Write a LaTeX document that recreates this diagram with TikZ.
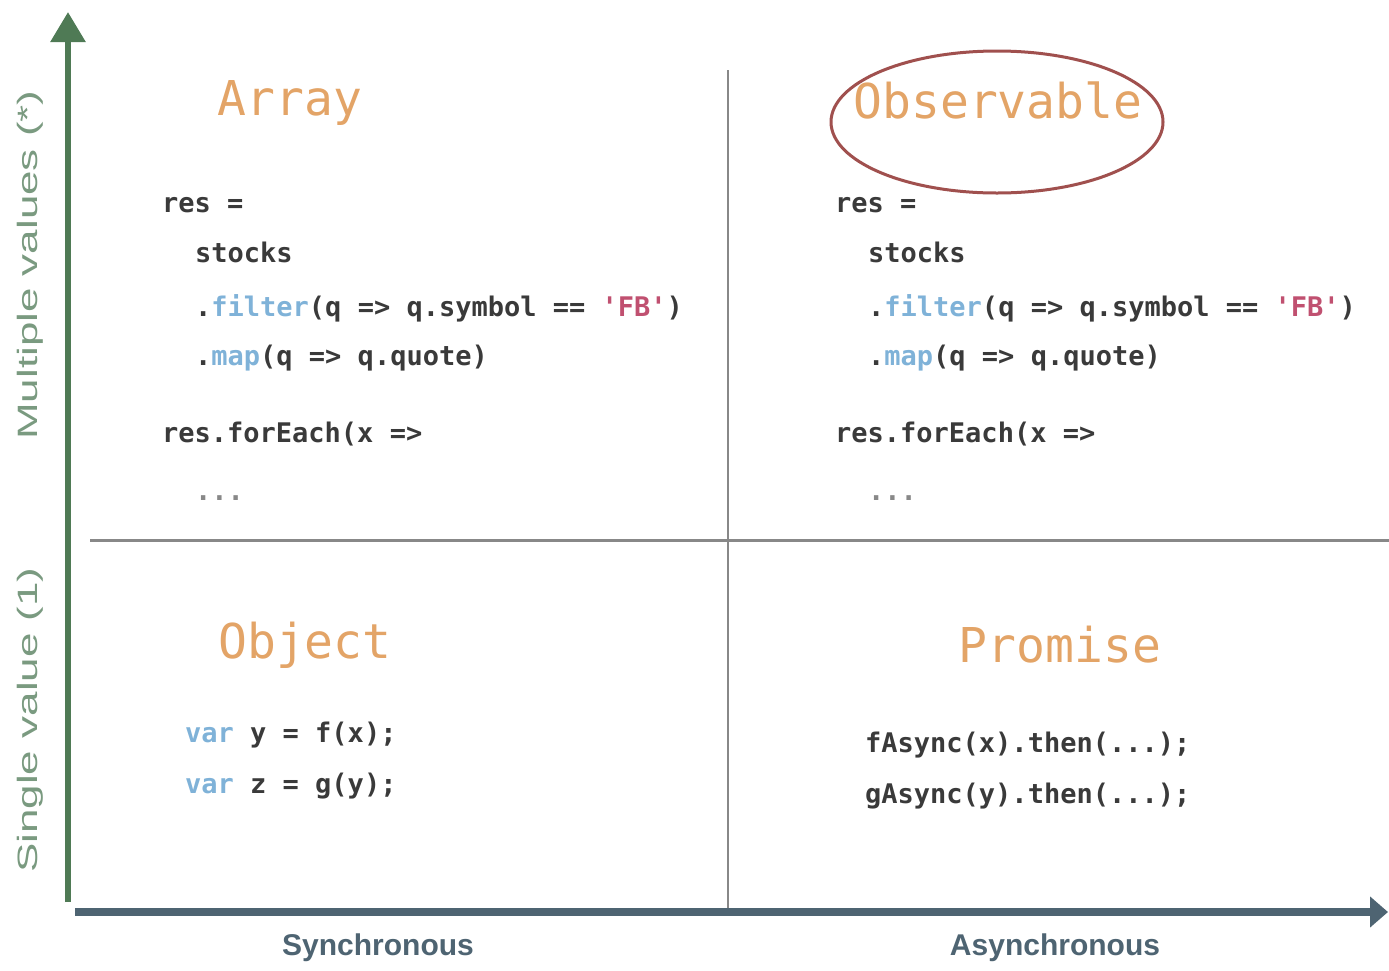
\documentclass[tikz,border=0pt]{standalone}
\usepackage{fontspec}
\setmainfont{Liberation Sans}
\newfontfamily\codefont{DejaVu Sans Mono}
\usetikzlibrary{arrows.meta,shapes.geometric}
\definecolor{titleorange}{HTML}{E3A467}
\definecolor{codegray}{HTML}{3A3A3A}
\definecolor{kwblue}{HTML}{7FB2D8}
\definecolor{strred}{HTML}{C05070}
\definecolor{axisgreen}{HTML}{4F7A55}
\definecolor{axisslate}{HTML}{4E6472}
\definecolor{divgray}{HTML}{888888}
\definecolor{ringred}{HTML}{A0504E}
\definecolor{labgreen}{HTML}{7A9A80}
\tikzset{
  x=1pt, y=-1pt,
  ttl/.style={font=\codefont\fontsize{48}{48}\selectfont, text=titleorange, inner sep=0pt},
  code/.style={font=\codefont\bfseries\fontsize{27}{27}\selectfont, text=codegray, anchor=base west, inner sep=0pt},
  axlab/.style={font=\fontsize{28}{28}\selectfont, text=labgreen, inner sep=0pt},
  xlab/.style={font=\bfseries\fontsize{30}{30}\selectfont, text=axisslate, inner sep=0pt},
}
\newcommand{\kw}[1]{\textcolor{kwblue}{#1}}
\newcommand{\str}[1]{\textcolor{strred}{#1}}
\begin{document}
\begin{tikzpicture}
\useasboundingbox (0,0) rectangle (1389,970);
% dividers
\coordinate (vtop) at (728,70);
\coordinate (vbot) at (728,910);
\coordinate (hl) at (90,540);
\coordinate (hr) at (1389,540);
\draw[divgray, line width=1.5pt] (vtop) -- (vbot);
\draw[divgray, line width=3pt] (hl) -- (hr);
% axes
\coordinate (yo) at (68,902);
\coordinate (yt) at (68,12);
\coordinate (xo) at (75,912);
\coordinate (xe) at (1388,912);
\draw[axisgreen, line width=6pt, -{Triangle[length=30pt,width=34pt]}] (yo) -- (yt);
\draw[axisslate, line width=8pt, -{Triangle[length=18pt,width=30pt]}] (xo) -- (xe);
% axis labels
\node[axlab, rotate=90] (ml) at (30,265) {\scalebox{1.57}[1]{Multiple values (*)}};
\node[axlab, rotate=90] (sl) at (30,720) {\scalebox{1.57}[1]{Single value (1)}};
\node[xlab] (sync) at (378,948) {Synchronous};
\node[xlab] (async) at (1055,948) {Asynchronous};
% titles
\node[ttl] (array) at (290,103) {Array};
\node[ttl] (obs) at (998,100) {Observable};
\node[ttl] (object) at (305,645) {Object};
\node[ttl] (promise) at (1060,645) {Promise};
\node[draw=ringred, line width=3pt, ellipse, minimum width=332pt, minimum height=142pt] (ring) at (997,122) {};
% Array code
\node[code] (a1) at (162,212) {res =};
\node[code] (a2) at (195,262) {stocks};
\node[code] (a3) at (195,316) {.\kw{filter}(q => q.symbol == \str{'FB'})};
\node[code] (a4) at (195,365) {.\kw{map}(q => q.quote)};
\node[code] (a5) at (162,442) {res.forEach(x =>};
\node[code, text=divgray] (a6) at (195,500) {...};
% Observable code
\node[code] (o1) at (835,212) {res =};
\node[code] (o2) at (868,262) {stocks};
\node[code] (o3) at (868,316) {.\kw{filter}(q => q.symbol == \str{'FB'})};
\node[code] (o4) at (868,365) {.\kw{map}(q => q.quote)};
\node[code] (o5) at (835,442) {res.forEach(x =>};
\node[code, text=divgray] (o6) at (868,500) {...};
% Object code
\node[code] (b1) at (185,742) {\kw{var} y = f(x);};
\node[code] (b2) at (185,793) {\kw{var} z = g(y);};
% Promise code
\node[code] (p1) at (865,752) {fAsync(x).then(...);};
\node[code] (p2) at (865,803) {gAsync(y).then(...);};
\end{tikzpicture}
\end{document}
